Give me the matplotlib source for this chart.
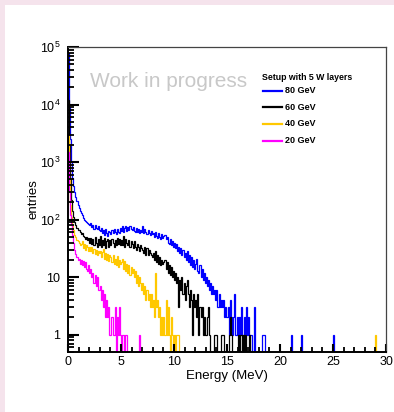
import numpy as np
import matplotlib
matplotlib.use("Agg")
import matplotlib.pyplot as plt
from matplotlib.patches import Rectangle
from matplotlib.lines import Line2D
from matplotlib.ticker import FixedLocator, FixedFormatter, LogLocator, MultipleLocator

plt.rcParams['font.family'] = ['Liberation Sans', 'DejaVu Sans']
plt.rcParams['mathtext.fontset'] = 'custom'
plt.rcParams['mathtext.rm'] = 'Liberation Sans'

# energy deposit histograms, 0.1 MeV bins starting at 0
bin_width = 0.1
n_bins = 300

blue_80 = [
    80000, 9000, 2500, 1000, 520, 380, 300, 250, 210, 180,
    160, 140, 128, 118, 108, 100, 96, 90, 86, 84,
    80, 86, 74, 80, 70, 82, 72, 68, 76, 66,
    64, 72, 58, 66, 54, 68, 58, 52, 64, 60,
    56, 66, 58, 68, 60, 56, 70, 62, 58, 72,
    64, 76, 62, 72, 78, 64, 74, 66, 76, 68,
    66, 74, 64, 62, 72, 60, 68, 58, 66, 60,
    76, 58, 70, 60, 56, 66, 58, 54, 64, 56,
    58, 50, 60, 52, 48, 58, 50, 46, 56, 48,
    52, 54, 46, 50, 40, 38, 46, 36, 42, 34,
    40, 32, 38, 28, 34, 26, 32, 24, 30, 22,
    26, 20, 28, 18, 24, 16, 22, 15, 20, 14,
    17, 21, 13, 12, 16, 10, 14, 9, 12, 8,
    10, 7, 9, 6, 8, 5, 7, 5, 6, 4,
    6, 3, 5, 3, 4, 3, 4, 2, 3, 2,
    2, 3, 1, 4, 2, 1, 2, 5, 1, 2,
    1, 2, 1, 3, 1, 1, 2, 1, 3, 1,
    2, 1, 1, 1, 0, 3, 0, 0, 0, 0,
]
blue_80_tail = {18.3: 1, 18.4: 1, 18.5: 1, 21.0: 1, 22.0: 1, 25.0: 1}

black_60 = [
    12000, 2000, 500, 220, 140, 110, 90, 80, 72, 66,
    66, 60, 56, 58, 52, 50, 46, 50, 44, 48,
    40, 48, 38, 46, 36, 50, 40, 34, 46, 36,
    52, 34, 44, 36, 48, 32, 42, 46, 34, 44,
    36, 46, 40, 34, 44, 36, 48, 38, 46, 36,
    44, 36, 52, 34, 46, 40, 36, 44, 34, 42,
    38, 32, 42, 34, 30, 38, 34, 28, 36, 32,
    30, 26, 34, 24, 32, 24, 30, 26, 24, 22,
    26, 20, 28, 18, 24, 17, 22, 16, 20, 17,
    18, 20, 14, 18, 12, 16, 11, 15, 10, 13,
    9, 12, 8, 10, 3, 9, 6, 10, 5, 8,
    4, 7, 9, 5, 3, 6, 4, 1, 5, 3,
    4, 2, 5, 1, 3, 2, 3, 1, 2, 1,
    1, 2, 3, 1, 0, 0, 0, 0, 1, 1,
    1, 0, 0, 0, 1, 1, 1, 0, 0, 0,
    0, 0, 1, 2, 1, 0, 0, 0, 0, 0,
    1, 0, 1, 1, 0, 1, 0, 1, 0, 0,
    0, 1, 0, 0, 0, 0, 0, 0, 0, 0,
]

yellow_40 = [
    3000, 500, 180, 110, 80, 65, 55, 50, 45, 42,
    40, 36, 38, 42, 32, 38, 30, 36, 34, 28,
    34, 28, 33, 26, 31, 25, 30, 24, 29, 26,
    28, 22, 27, 31, 21, 26, 20, 25, 19, 24,
    22, 18, 24, 17, 21, 16, 23, 15, 20, 17,
    18, 21, 14, 19, 13, 17, 12, 16, 11, 15,
    12, 14, 10, 13, 8, 11, 7, 10, 8, 6,
    8, 5, 7, 4, 6, 4, 5, 3, 5, 3,
    4, 2, 12, 3, 4, 2, 3, 1, 2, 1,
    2, 1, 4, 1, 3, 1, 0, 2, 1, 0,
    1, 0, 1, 1, 1, 0, 0, 0, 0, 0,
]
yellow_40_tail = {29.0: 1}

magenta_20 = [
    1500, 300, 120, 80, 55, 40, 30, 25, 22, 20,
    21, 17, 20, 16, 19, 15, 18, 14, 13, 16,
    12, 14, 10, 12, 8, 11, 7, 10, 6, 6,
    7, 4, 6, 3, 5, 2, 4, 2, 3, 1,
    1, 2, 1, 1, 3, 0, 2, 1, 3, 1,
    0, 1, 1, 0, 1, 1, 0, 0, 0, 0,
    0, 0, 0, 0, 0, 0, 0, 1, 0, 0,
]

labels = ['80 GeV', '60 GeV', '40 GeV', '20 GeV']
colors = ['#0000ff', '#000000', '#ffc800', '#ff00ff']


def fill_hist(dense, tail=None):
    h = np.zeros(n_bins)
    h[:len(dense)] = dense
    if tail:
        for e, c in tail.items():
            h[int(round(e / bin_width))] = c
    return h


hists = [fill_hist(blue_80, blue_80_tail), fill_hist(black_60),
         fill_hist(yellow_40, yellow_40_tail), fill_hist(magenta_20)]
edges = np.arange(n_bins + 1) * bin_width

W, H = 394, 412
fig = plt.figure(figsize=(W / 100, H / 100), dpi=100, facecolor='#f5e3ec')
fig.patches.append(Rectangle((5 / W, 0), 1, 1 - 5 / H, transform=fig.transFigure,
                             facecolor='white', edgecolor='none', zorder=-10))

ax = fig.add_axes([68 / W, 1 - 352 / H, (386 - 68) / W, (352 - 47) / H])
ax.set_zorder(2)
ax.set_facecolor('white')

for h, c in zip(hists, colors):
    ax.stairs(h, edges, color=c, linewidth=0.9, baseline=None)

ax.set_yscale('log', nonpositive='clip')
ax.set_xlim(0, 30)
ax.set_ylim(0.5, 1e5)

ax.xaxis.set_major_locator(MultipleLocator(5))
ax.xaxis.set_minor_locator(MultipleLocator(1))
ax.yaxis.set_major_locator(FixedLocator([1, 10, 1e2, 1e3, 1e4, 1e5]))
ax.yaxis.set_major_formatter(FixedFormatter(
    ['1', '10', r'$10^{2}$', r'$10^{3}$', r'$10^{4}$', r'$10^{5}$']))
ax.yaxis.set_minor_locator(LogLocator(base=10, subs=np.arange(2, 10), numticks=20))

ax.tick_params(axis='both', which='both', direction='in', top=False, right=False,
               colors='black', labelsize=9)
ax.tick_params(axis='y', which='major', length=8, width=1.5, pad=5.5)
ax.tick_params(axis='y', which='minor', length=4.5, width=1.3)
ax.tick_params(axis='x', which='major', length=6, width=1.5, pad=3)
ax.tick_params(axis='x', which='minor', length=3.5, width=1.3)

for s in ['left', 'bottom']:
    ax.spines[s].set_linewidth(1.4)
    ax.spines[s].set_color('black')
for s in ['top', 'right']:
    ax.spines[s].set_linewidth(0.9)
    ax.spines[s].set_color('#444444')

ax.set_xlabel('Energy (MeV)', fontsize=9.5, labelpad=1)
ax.set_ylabel('entries', fontsize=9.5, labelpad=0)

ax.text(169 / W, 1 - 87 / H, 'Work in progress', color='#c8c8c8', fontsize=15,
        ha='center', va='baseline', transform=fig.transFigure)

# legend drawn by hand to follow the ROOT layout
ax.text(262 / W, 1 - 80 / H, 'Setup with 5 W layers', fontsize=6.3,
        fontweight='bold', ha='left', va='baseline', transform=fig.transFigure)
rows = [90.7, 107.3, 124.0, 140.7]
for y, lab, c in zip(rows, labels, colors):
    ax.add_line(Line2D([263 / W, 282 / W], [1 - y / H, 1 - y / H],
                       transform=fig.transFigure, color=c, linewidth=1.6))
    ax.text(285 / W, 1 - y / H, lab, fontsize=6.5, fontweight='bold',
            ha='left', va='center', transform=fig.transFigure)

fig.savefig('out.png', dpi=100, facecolor=fig.get_facecolor())
